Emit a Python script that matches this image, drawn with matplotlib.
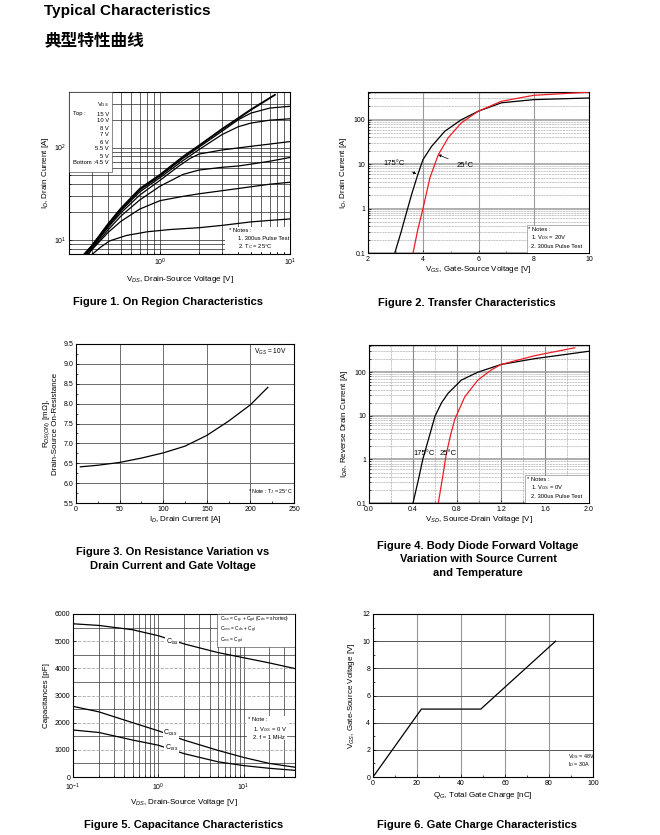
import matplotlib
matplotlib.use("Agg")
import matplotlib.pyplot as plt
from matplotlib.ticker import LogLocator, NullFormatter, MultipleLocator, FormatStrFormatter
from matplotlib.patches import Rectangle

plt.rcParams['font.family'] = ['Liberation Sans', 'DejaVu Sans']
plt.rcParams['mathtext.fontset'] = 'custom'
plt.rcParams['mathtext.rm'] = 'Liberation Sans'
plt.rcParams['mathtext.it'] = 'Liberation Sans:italic'
plt.rcParams['mathtext.bf'] = 'Liberation Sans:bold'

# ── Figure 1: on-region characteristics (V_DS [V] vs I_D [A]) ───────────────
vgs_labels = ["15 V", "10 V", "8 V", "7 V", "6 V", "5.5 V", "5 V", "4.5 V"]
vds_15 = [0.26, 0.3, 0.4, 0.5, 0.7, 1.0, 1.5, 2.0, 3.0, 4.0, 5.0, 7.67]
id_15 = [6.9, 8.7, 15, 22, 36, 51, 80, 106, 160, 210, 260, 376]
vds_10 = [0.26, 0.3, 0.4, 0.5, 0.7, 1.0, 1.5, 2.0, 3.0, 4.0, 5.0, 7.67]
id_10 = [6.9, 8.6, 14.7, 21.6, 35, 50, 78, 104, 156, 205, 254, 370]
vds_8 = [0.26, 0.3, 0.4, 0.5, 0.7, 1.0, 1.5, 2.0, 3.0, 4.0, 5.0, 7.0, 10.0]
id_8 = [6.9, 8.5, 14.5, 21, 34.5, 49, 76, 101, 150, 200, 236, 268, 280]
vds_7 = [0.27, 0.3, 0.4, 0.5, 0.7, 1.0, 1.5, 2.0, 3.0, 4.0, 5.0, 7.0, 10.0]
id_7 = [6.9, 8.3, 14, 20.5, 33, 47, 72, 95, 138, 168, 184, 198, 205]
vds_6 = [0.27, 0.3, 0.4, 0.5, 0.7, 1.0, 1.4, 1.7, 2.0, 3.0, 5.0, 7.0, 10.0]
id_6 = [6.9, 8.2, 13.6, 19.5, 30.5, 44, 63, 76, 85, 94, 103, 109, 116]
vds_55 = [0.28, 0.3, 0.4, 0.5, 0.7, 1.0, 1.5, 2.0, 3.0, 4.0, 5.0, 7.0, 10.0]
id_55 = [6.9, 7.9, 12.8, 18, 27, 38, 51, 57, 61, 63, 66, 71, 78]
vds_5 = [0.28, 0.3, 0.4, 0.5, 0.7, 1.0, 1.5, 2.0, 3.0, 5.0, 7.0, 10.0]
id_5 = [6.9, 7.8, 12, 15.8, 21.5, 26.5, 29.5, 31.5, 34, 37.5, 40, 42]
vds_45 = [0.3, 0.35, 0.41, 0.55, 0.8, 1.2, 2.0, 3.0, 5.0, 7.0, 10.0]
id_45 = [6.9, 8.3, 9.7, 11.1, 12.2, 12.9, 13.5, 14.3, 15.6, 16.2, 16.8]

# ── Figure 2: transfer characteristics (V_GS [V] vs I_D [A]) ────────────────
vgs_175 = [2.97, 3.2, 3.39, 3.6, 3.79, 3.99, 4.3, 4.78, 5.38, 5.99, 6.83, 8.0, 10.0]
id_175 = [0.1, 0.3, 0.8, 2.3, 5.5, 12.6, 25, 55, 100, 155, 240, 283, 308]
vgs_25 = [3.63, 3.8, 3.99, 4.24, 4.54, 4.9, 5.38, 5.99, 6.83, 8.0, 10.0]
id_25 = [0.1, 0.33, 1.0, 4.9, 16, 39, 85, 155, 260, 354, 417]

# ── Figure 3: on-resistance vs drain current ───────────────────────────────
id_r = [5, 25, 50, 75, 100, 125, 150, 175, 200, 220]
r_on = [6.41, 6.45, 6.52, 6.63, 6.76, 6.93, 7.2, 7.56, 7.97, 8.41]

# ── Figure 4: body diode forward voltage ───────────────────────────────────
vsd_175 = [0.4, 0.45, 0.49, 0.55, 0.6, 0.66, 0.72, 0.84, 0.99, 1.2, 1.51, 2.0]
isd_175 = [0.1, 0.35, 1.03, 3.5, 9.8, 20, 33, 66, 100, 150, 205, 302]
vsd_25 = [0.63, 0.67, 0.70, 0.74, 0.78, 0.87, 0.99, 1.11, 1.2, 1.51, 1.87]
isd_25 = [0.1, 0.4, 1.23, 3.5, 8.3, 27, 66, 112, 150, 240, 363]

# ── Figure 5: capacitances ─────────────────────────────────────────────────
vds_c = [0.1, 0.2, 0.5, 1, 2, 5, 10, 20, 40]
c_iss = [5640, 5580, 5420, 5200, 4900, 4580, 4390, 4200, 3990]
c_oss = [2600, 2400, 2000, 1700, 1360, 980, 720, 500, 360]
c_rss = [1730, 1640, 1360, 1170, 860, 560, 420, 320, 245]

# ── Figure 6: gate charge ──────────────────────────────────────────────────
qg = [0, 22, 49, 83]
vgs_q = [0, 5, 5, 10]

W, H = 660, 835
RED = "#ee1c25"
TFS = 5      # tick label size
LFS = 5.8    # axis label size
NFS = 4.2    # notes size


def box(l, t, r, b):
    return [l / W, 1 - b / H, (r - l) / W, (b - t) / H]


def style(ax):
    for s in ax.spines.values():
        s.set_linewidth(0.8)
    ax.tick_params(which="both", direction="in", labelsize=TFS, width=0.5, pad=2)
    ax.tick_params(which="major", length=2.5)
    ax.tick_params(which="minor", length=1.5)


def notes(ax, x0, y0, x1, y1, lines, edge="none", fs=NFS):
    ax.add_patch(Rectangle((x0, y0), x1 - x0, y1 - y0, transform=ax.transAxes,
                           facecolor="white", edgecolor=edge, linewidth=0.4, zorder=3))
    for (x, y, s) in lines:
        ax.text(x, y, s, transform=ax.transAxes, fontsize=fs, va="center", zorder=5)


fig = plt.figure(figsize=(W / 100, H / 100), dpi=100)

fig.text(44 / W, 1 - 11 / H, "Typical Characteristics", fontsize=11, fontweight="bold", va="center")
fig.text(44 / W, 1 - 40 / H, "典型特性曲线", family=["Noto Sans CJK SC", "DejaVu Sans"],
         fontsize=12, fontweight="bold", va="center")

# ── panel 1 ────────────────────────────────────────────────────────────────
ax = fig.add_axes(box(69, 92, 290, 254))
ax.set_xscale("log")
ax.set_yscale("log")
ax.set_xlim(0.2, 10)
ax.set_ylim(7, 400)
ax.grid(True, which="both", color="#222222", linewidth=0.5)
for xs, ys in [(vds_15, id_15), (vds_10, id_10), (vds_8, id_8), (vds_7, id_7),
               (vds_6, id_6), (vds_55, id_55), (vds_5, id_5), (vds_45, id_45)]:
    ax.plot(xs, ys, color="black", linewidth=0.9, zorder=4)
ax.xaxis.set_minor_formatter(NullFormatter())
ax.yaxis.set_minor_formatter(NullFormatter())
style(ax)
ax.set_xlabel(r"V$_{DS}$, Drain-Source Voltage [V]", fontsize=LFS, labelpad=4)
ax.set_ylabel(r"I$_{D}$, Drain Current [A]", fontsize=LFS, labelpad=2)
ax.add_patch(Rectangle((0, 0.506), 0.195, 0.494, transform=ax.transAxes,
                       facecolor="white", edgecolor="#333333", linewidth=0.4, zorder=3))
ax.text(0.181, 0.92, r"V$_{GS}$", transform=ax.transAxes, fontsize=NFS, ha="right", va="center", zorder=5)
ys_leg = [114, 121, 128, 134, 142, 149, 156, 163]
for lab, yp in zip(vgs_labels, ys_leg):
    ya = 1 - (yp - 92) / 162
    ax.text(0.181, ya, lab, transform=ax.transAxes, fontsize=NFS, ha="right", va="center", zorder=5)
ax.text(0.018, 1 - (114 - 92) / 162, "Top :", transform=ax.transAxes, fontsize=NFS, va="center", zorder=5)
ax.text(0.018, 1 - (163 - 92) / 162, "Bottom :", transform=ax.transAxes, fontsize=NFS, va="center", zorder=5)
notes(ax, 0.706, 0.012, 1.0, 0.167,
      [(0.724, 0.142, "* Notes :"), (0.765, 0.093, "1. 300us Pulse Test"),
       (0.765, 0.043, r"2. T$_{C}$ = 25°C")])

# ── panel 2 ────────────────────────────────────────────────────────────────
ax = fig.add_axes(box(368, 92, 589, 253))
ax.set_yscale("log")
ax.set_xlim(2, 10)
ax.set_ylim(0.1, 420)
ax.set_xticks([2, 4, 6, 8, 10])
ax.xaxis.set_minor_locator(MultipleLocator(1))
ax.set_yticks([0.1, 1, 10, 100])
ax.set_yticklabels(["0.1", "1", "10", "100"])
ax.yaxis.set_minor_formatter(NullFormatter())
ax.grid(True, which="major", axis="x", color="#9a9a9a", linewidth=0.8)
ax.grid(True, which="major", axis="y", color="#9a9a9a", linewidth=1.1)
ax.grid(True, which="minor", axis="y", color="#b0b0b0", linewidth=0.5, linestyle=(0, (3, 1)))
ax.plot(vgs_175, id_175, color="black", linewidth=0.9, zorder=4)
ax.plot(vgs_25, id_25, color=RED, linewidth=0.9, zorder=4)
style(ax)
ax.set_xlabel(r"V$_{GS}$, Gate-Source Voltage [V]", fontsize=LFS, labelpad=1)
ax.set_ylabel(r"I$_{D}$, Drain Current [A]", fontsize=LFS, labelpad=3)
ax.annotate("175°C", xy=(3.75, 6.0), xytext=(2.95, 10.5), fontsize=5.5, ha="center", va="center",
            arrowprops=dict(arrowstyle="-|>", color="black", lw=0.5, mutation_scale=4,
                            shrinkA=4, shrinkB=0))
ax.annotate("25°C", xy=(4.54, 16.3), xytext=(5.5, 9.3), fontsize=5.5, ha="center", va="center",
            arrowprops=dict(arrowstyle="-|>", color="black", lw=0.5, mutation_scale=4,
                            shrinkA=4, shrinkB=0))
notes(ax, 0.72, 0.0, 1.0, 0.174,
      [(0.724, 0.149, "* Notes :"), (0.738, 0.093, r"1. V$_{DS}$ = 20V"),
       (0.738, 0.043, "2. 300us Pulse Test")], edge="#777777")

# ── panel 3 ────────────────────────────────────────────────────────────────
ax = fig.add_axes(box(76, 344, 294, 503))
ax.set_xlim(0, 250)
ax.set_ylim(5.5, 9.5)
ax.xaxis.set_major_locator(MultipleLocator(50))
ax.xaxis.set_minor_locator(MultipleLocator(25))
ax.yaxis.set_major_locator(MultipleLocator(0.5))
ax.yaxis.set_minor_locator(MultipleLocator(0.25))
ax.grid(True, which="major", color="#555555", linewidth=0.6)
ax.plot(id_r, r_on, color="black", linewidth=0.9, zorder=4)
style(ax)
ax.set_xlabel(r"I$_{D}$, Drain Current [A]", fontsize=LFS, labelpad=1)
ax.set_ylabel("R$_{DS(ON)}$ [m$\\Omega$],\nDrain-Source On-Resistance", fontsize=LFS, labelpad=3,
              linespacing=1.1)
ax.text(0.89, 0.95, r"V$_{GS}$ = 10V", transform=ax.transAxes, fontsize=4.8, ha="center", va="center")
ax.text(0.89, 0.07, r"* Note : T$_{J}$ = 25°C", transform=ax.transAxes, fontsize=NFS - 0.3,
        ha="center", va="center")

# ── panel 4 ────────────────────────────────────────────────────────────────
ax = fig.add_axes(box(369, 345, 589, 503))
ax.set_yscale("log")
ax.set_xlim(0, 2.0)
ax.set_ylim(0.1, 420)
ax.xaxis.set_major_locator(MultipleLocator(0.4))
ax.xaxis.set_minor_locator(MultipleLocator(0.2))
ax.xaxis.set_major_formatter(FormatStrFormatter("%.1f"))
ax.set_yticks([0.1, 1, 10, 100])
ax.set_yticklabels(["0.1", "1", "10", "100"])
ax.yaxis.set_minor_formatter(NullFormatter())
ax.grid(True, which="major", axis="x", color="#888888", linewidth=0.8)
ax.grid(True, which="minor", axis="x", color="#b0b0b0", linewidth=0.5, linestyle=(0, (3, 1)))
ax.grid(True, which="major", axis="y", color="#9a9a9a", linewidth=1.1)
ax.grid(True, which="minor", axis="y", color="#b0b0b0", linewidth=0.5, linestyle=(0, (3, 1)))
ax.plot(vsd_175, isd_175, color="black", linewidth=0.9, zorder=4)
ax.plot(vsd_25, isd_25, color=RED, linewidth=0.9, zorder=4)
style(ax)
ax.set_xlabel(r"V$_{SD}$, Source-Drain Voltage [V]", fontsize=LFS, labelpad=1)
ax.set_ylabel(r"I$_{DR}$, Reverse Drain Current [A]", fontsize=LFS, labelpad=3)
ax.text(0.5, 1.34, "175°C", fontsize=5.5, ha="center", va="center", zorder=5)
ax.text(0.72, 1.34, "25°C", fontsize=5.5, ha="center", va="center", zorder=5)
notes(ax, 0.709, 0.0, 1.0, 0.177,
      [(0.718, 0.146, "* Notes :"), (0.736, 0.095, r"1. V$_{GS}$ = 0V"),
       (0.736, 0.044, "2. 300us Pulse Test")], edge="#777777")

# ── panel 5 ────────────────────────────────────────────────────────────────
ax = fig.add_axes(box(73, 614, 295, 777))
ax.set_xscale("log")
ax.set_xlim(0.1, 40)
ax.set_ylim(0, 6000)
ax.xaxis.set_major_locator(LogLocator(base=10))
ax.xaxis.set_minor_formatter(NullFormatter())
ax.yaxis.set_major_locator(MultipleLocator(1000))
ax.yaxis.set_minor_locator(MultipleLocator(500))
ax.grid(True, which="both", axis="x", color="#333333", linewidth=0.5)
ax.grid(True, which="minor", axis="y", color="#333333", linewidth=0.5)
ax.grid(True, which="major", axis="y", color="#aaaaaa", linewidth=0.6, linestyle=(0, (4, 1.5)))
ax.plot(vds_c, c_iss, color="black", linewidth=0.9, zorder=4)
ax.plot(vds_c, c_oss, color="black", linewidth=0.9, zorder=4)
ax.plot(vds_c, c_rss, color="black", linewidth=0.9, zorder=4)
style(ax)
ax.tick_params(which="minor", axis="y", length=0)
ax.tick_params(axis="x", pad=3.5)
ax.set_xlabel(r"V$_{DS}$, Drain-Source Voltage [V]", fontsize=LFS, labelpad=3)
ax.set_ylabel("Capacitances [pF]", fontsize=LFS, labelpad=3)
lab_bb = dict(facecolor="white", edgecolor="none", pad=0.3)
ax.text(1.45, 4960, r"C$_{iss}$", fontsize=5, ha="center", va="center", bbox=lab_bb, zorder=5)
ax.text(1.40, 1620, r"C$_{oss}$", fontsize=5, ha="center", va="center", bbox=lab_bb, zorder=5)
ax.text(1.42, 1070, r"C$_{rss}$", fontsize=5, ha="center", va="center", bbox=lab_bb, zorder=5)
notes(ax, 0.649, 0.80, 1.0, 1.0,
      [(0.66, 0.962, r"C$_{iss}$ = C$_{gs}$ + C$_{gd}$ (C$_{ds}$ = shorted)"),
       (0.66, 0.900, r"C$_{oss}$ = C$_{ds}$ + C$_{gd}$"),
       (0.66, 0.838, r"C$_{rss}$ = C$_{gd}$")], edge="#333333", fs=3.5)
notes(ax, 0.784, 0.225, 0.964, 0.372,
      [(0.788, 0.352, "* Note :"), (0.811, 0.290, r"1. V$_{GS}$ = 0 V"),
       (0.811, 0.240, "2. f = 1 MHz")])

# ── panel 6 ────────────────────────────────────────────────────────────────
ax = fig.add_axes(box(373, 614, 593, 777))
ax.set_xlim(0, 100)
ax.set_ylim(0, 12)
ax.xaxis.set_major_locator(MultipleLocator(20))
ax.xaxis.set_minor_locator(MultipleLocator(10))
ax.yaxis.set_major_locator(MultipleLocator(2))
ax.yaxis.set_minor_locator(MultipleLocator(1))
ax.grid(True, which="major", axis="x", color="#999999", linewidth=0.8)
ax.grid(True, which="major", axis="y", color="#555555", linewidth=0.7)
ax.plot(qg, vgs_q, color="black", linewidth=0.9, zorder=4)
style(ax)
ax.set_xlabel(r"Q$_{G}$, Total Gate Charge [nC]", fontsize=LFS, labelpad=2)
ax.set_ylabel(r"V$_{GS}$, Gate-Source Voltage [V]", fontsize=LFS, labelpad=4)
ax.text(0.886, 0.128, r"V$_{DS}$ = 48V", transform=ax.transAxes, fontsize=3.9, va="center")
ax.text(0.886, 0.078, r"I$_{D}$ = 30A", transform=ax.transAxes, fontsize=3.9, va="center")

# ── figure captions ────────────────────────────────────────────────────────
cap = dict(fontsize=8, fontweight="bold", ha="center", va="center", linespacing=1.45)
fig.text(168 / W, 1 - 302 / H, "Figure 1. On Region Characteristics", **cap)
fig.text(467 / W, 1 - 303 / H, "Figure 2. Transfer Characteristics", **cap)
fig.text(173 / W, 1 - 559 / H, "Figure 3. On Resistance Variation vs\nDrain Current and Gate Voltage", **cap)
fig.text(478 / W, 1 - 559.5 / H, "Figure 4. Body Diode Forward Voltage\nVariation with Source Current\nand Temperature", **cap)
fig.text(184 / W, 1 - 825 / H, "Figure 5. Capacitance Characteristics", **cap)
fig.text(477 / W, 1 - 825 / H, "Figure 6. Gate Charge Characteristics", **cap)

fig.savefig("out.png", dpi=100)
